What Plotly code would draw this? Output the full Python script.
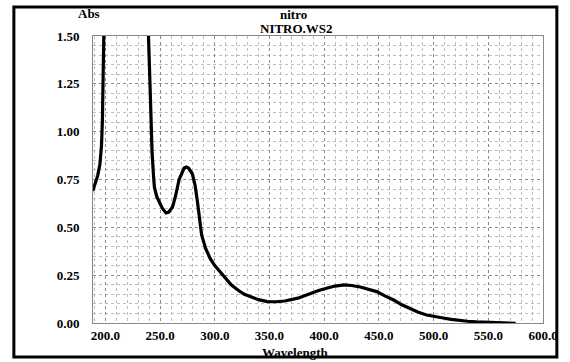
import plotly.graph_objects as go

# Band 1 (short-wavelength edge, goes off scale)
wl_left = [188.5, 191, 193, 195, 196.5, 197.3, 197.8, 198.5, 199]
abs_left = [0.69, 0.73, 0.77, 0.83, 0.93, 1.06, 1.24, 1.5, 1.65]

# Band 2 (from off-scale down to baseline)
wl_right = [239, 239.4, 240.9, 242, 242.7, 244, 244.8, 247, 249.3, 252, 255.4, 258, 261.4,
            264, 267.4, 270, 272, 274, 276, 279.5, 282, 284, 286, 288, 291.6, 296, 300,
            305, 309.7, 315, 321.7, 327, 333.6, 340, 348, 356, 364, 370, 376, 382, 388,
            395, 403, 410, 418, 425, 433, 440, 448, 455, 463.5, 471, 478.6, 486, 493.7,
            501, 508.8, 516, 524, 531, 539, 546, 554, 562, 569, 575]
abs_right = [1.65, 1.5, 1.23, 1.0, 0.89, 0.77, 0.71, 0.66, 0.63, 0.60, 0.575, 0.58, 0.606,
             0.66, 0.75, 0.79, 0.81, 0.815, 0.81, 0.78, 0.72, 0.64, 0.54, 0.46, 0.39, 0.335, 0.30,
             0.265, 0.235, 0.20, 0.17, 0.15, 0.136, 0.122, 0.112, 0.111, 0.115, 0.123, 0.13, 0.143, 0.157,
             0.17, 0.183, 0.193, 0.199, 0.196, 0.188, 0.177, 0.164, 0.143, 0.12, 0.095, 0.073, 0.056, 0.042,
             0.033, 0.026, 0.019, 0.013, 0.009, 0.006, 0.004, 0.003, 0.002, 0.001, -0.002]

x_ticks = [200, 250, 300, 350, 400, 450, 500, 550, 600]
y_ticks = [0.00, 0.25, 0.50, 0.75, 1.00, 1.25, 1.50]

FONT = "Liberation Serif"

fig = go.Figure()
fig.add_trace(go.Scatter(x=wl_left + [None] + wl_right, y=abs_left + [None] + abs_right,
                         mode="lines", line=dict(color="black", width=3.2),
                         connectgaps=False, hoverinfo="skip"))

fig.update_layout(
    width=570, height=362,
    margin=dict(l=93, r=22, t=36, b=39),
    paper_bgcolor="white", plot_bgcolor="white",
    showlegend=False,
    font=dict(family=FONT, size=13, color="black"),
)

fig.update_xaxes(
    range=[188.7, 600], tickvals=x_ticks, ticktext=[f"<b>{v:.1f}</b>" for v in x_ticks],
    tickfont=dict(family=FONT, size=13, color="black"),
    showgrid=True, gridcolor="#8a8a8a", griddash="dot", gridwidth=1,
    minor=dict(dtick=10, showgrid=True, gridcolor="#bdbdbd", griddash="dot", gridwidth=1),
    showline=True, linecolor="#888", linewidth=1, mirror=True,
    ticks="", zeroline=False, ticklabelstandoff=0,
)
fig.update_yaxes(
    range=[0, 1.5], tickvals=y_ticks, ticktext=[f"<b>{v:.2f}</b>" for v in y_ticks],
    tickfont=dict(family=FONT, size=13, color="black"),
    showgrid=True, gridcolor="#8a8a8a", griddash="dot", gridwidth=1,
    minor=dict(dtick=0.05, tick0=0, showgrid=True, gridcolor="#bdbdbd", griddash="dot", gridwidth=1),
    showline=True, linecolor="#888", linewidth=1, mirror=True,
    ticks="", zeroline=False, ticklabelstandoff=10,
)

# convert pixel positions to paper coordinates for annotations/border
L, R, T, B = 93, 548, 36, 323
def px(x):
    return (x - L) / (R - L)
def py(y):
    return (B - y) / (B - T)

labels = [("Abs", 89, 14), ("nitro", 296, 15), ("NITRO.WS2", 299, 29), ("Wavelength", 297, 352)]
for txt, lx, ly in labels:
    fig.add_annotation(text=f"<b>{txt}</b>", x=px(lx), y=py(ly), xref="paper", yref="paper",
                       xanchor="center", yanchor="middle", showarrow=False,
                       font=dict(family=FONT, size=13, color="black"))

fig.add_shape(type="rect", xref="paper", yref="paper",
              x0=px(13), x1=px(562), y0=py(357), y1=py(7),
              line=dict(color="black", width=3), layer="above")

fig.write_html("out.html")
